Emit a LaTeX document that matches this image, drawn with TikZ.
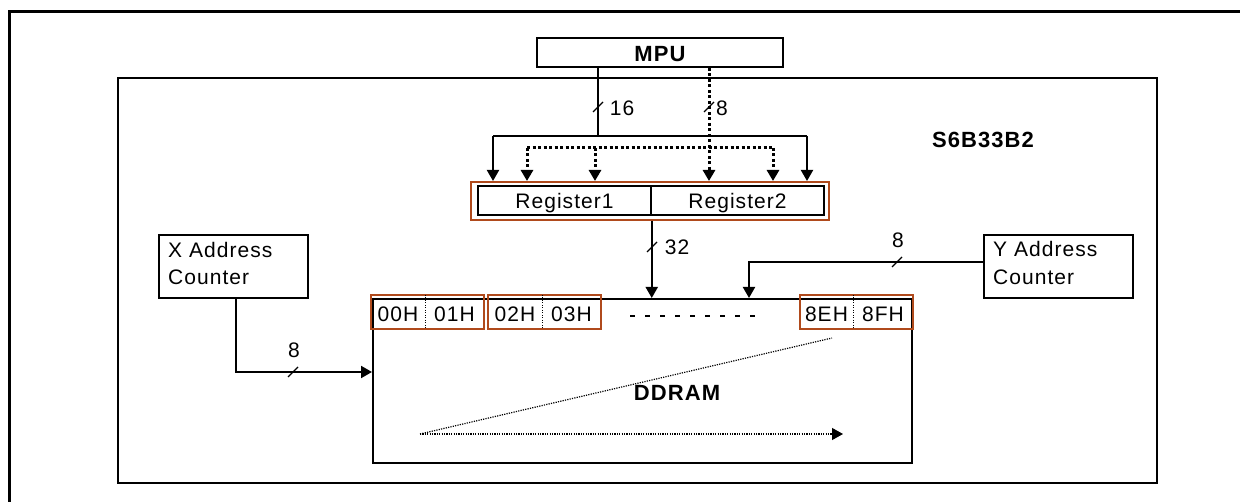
\documentclass[tikz,border=0pt]{standalone}
\usepackage{fontspec}
\setmainfont{Liberation Sans}
\usetikzlibrary{arrows.meta}
\definecolor{regor}{RGB}{176,74,28}
\begin{document}
\begin{tikzpicture}[x=1pt,y=-1pt,
  lbl/.style={font=\fontsize{21}{24}\selectfont\addfontfeatures{LetterSpace=5}, inner sep=0pt, anchor=base},
  blbl/.style={font=\fontsize{22}{24}\selectfont\bfseries\addfontfeatures{LetterSpace=5}, inner sep=0pt, anchor=base},
  box/.style={draw, line width=2pt, inner sep=0pt},
  rbox/.style={draw, line width=1.5pt, inner sep=0pt},
  obox/.style={draw=regor, line width=2pt, inner sep=0pt},
  wire/.style={line width=2pt},
  dwire/.style={line width=3pt, dash pattern=on 3pt off 2.5pt},
  arr/.style={-{Triangle[width=12pt,length=11pt]}},
  divider/.style={line width=1pt, dash pattern=on 1pt off 1.5pt},
  thindot/.style={line width=1.2pt, dash pattern=on 1.2pt off 1.2pt},
  busmark/.pic={\draw[line width=1.3pt] (-5,5) -- (5,-5);}
]
\useasboundingbox (0,0) rectangle (1240,502);
% outer frame (cropped)
\draw[line width=3pt] (9,502) -- (9,12) -- (1240,12);
% chip frame
\node[box, minimum width=1039pt, minimum height=405pt] (chip) at (637.5,280.5) {};
\node[blbl] (chipname) at (983,148) {S6B33B2};
% MPU
\node[box, minimum width=246pt, minimum height=29pt] (mpu) at (660,52.5) {};
\node[blbl] (mputxt) at (660,62) {MPU};
% registers
\node[obox, minimum width=358pt, minimum height=38pt] (regs) at (650,201) {};
\node[rbox, minimum width=173pt, minimum height=29pt] (r1) at (564.5,200.5) {};
\node[rbox, minimum width=173pt, minimum height=29pt] (r2) at (737.5,200.5) {};
\node[lbl] (r1t) at (564.5,209) {Register1};
\node[lbl] (r2t) at (737.5,209) {Register2};
% 16-bit bus (solid)
\coordinate (sj) at (598,136);
\coordinate (sl) at (493,136);
\coordinate (sr) at (807,136);
\draw[wire] (mpu.south -| sj) -- (sj);
\draw[wire] (sl) -- (sr);
\draw[wire, arr] (sl) -- (sl |- regs.north);
\draw[wire, arr] (sr) -- (sr |- regs.north);
\pic at (598,107) {busmark};
\node[lbl] (l16) at (622,116) {16};
% 8-bit bus (dotted)
\coordinate (dj) at (709,148);
\coordinate (dl) at (527,148);
\coordinate (dm) at (595,148);
\coordinate (dr) at (773,148);
\draw[dwire, arr] (mpu.south -| dj) -- (dj |- regs.north);
\draw[dwire] (dl) -- (dr);
\draw[dwire, arr] (dl) -- (dl |- regs.north);
\draw[dwire, arr] (dm) -- (dm |- regs.north);
\draw[dwire, arr] (dr) -- (dr |- regs.north);
\pic at (709,107) {busmark};
\node[lbl] (l8a) at (722,116) {8};
% DDRAM
\node[box, minimum width=539pt, minimum height=164pt] (ddram) at (642.5,381) {};
\node[blbl] (ddt) at (677,401) {DDRAM};
% 32-bit bus
\draw[wire, arr] (regs.south -| r1.east) -- (r1.east |- ddram.north);
\pic at (652,247) {busmark};
\node[lbl] (l32) at (677,255) {32};
% cells
\node[obox, minimum width=113pt, minimum height=34pt] (c1) at (427.5,312) {};
\node[obox, minimum width=113pt, minimum height=34pt] (c2) at (544.5,312) {};
\node[obox, minimum width=113pt, minimum height=34pt] (c3) at (856.5,312) {};
\draw[divider] (425,295) -- (425,329);
\draw[divider] (542,295) -- (542,329);
\draw[divider] (853,295) -- (853,329);
\node[lbl] (t00) at (398,322) {00H};
\node[lbl] (t01) at (454.5,322) {01H};
\node[lbl] (t02) at (515,322) {02H};
\node[lbl] (t03) at (571.5,322) {03H};
\node[lbl] (t8e) at (826.5,322) {8EH};
\node[lbl] (t8f) at (883,322) {8FH};
\draw[line width=1.5pt, dash pattern=on 5pt off 10pt] (630,316) -- (756,316);
% scan arrows
\coordinate (ds) at (420,434);
\coordinate (de) at (832,338);
\coordinate (dh) at (843,434);
\draw[thindot] (ds) -- (de);
\draw[thindot, arr] (ds) -- (dh);
% X address counter
\node[box, minimum width=149pt, minimum height=63pt] (xaddr) at (233.5,266.5) {};
\node[lbl, anchor=base west] (xa1) at (168,258) {X Address};
\node[lbl, anchor=base west] (xa2) at (168,285) {Counter};
\coordinate (xc) at (236,372);
\draw[wire, arr] (xaddr.south -| xc) -- (xc) -- (xc -| ddram.west);
\pic at (293,372) {busmark};
\node[lbl] (l8x) at (294,358) {8};
% Y address counter
\node[box, minimum width=149pt, minimum height=63pt] (yaddr) at (1058.5,266.5) {};
\node[lbl, anchor=base west] (ya1) at (993,257) {Y Address};
\node[lbl, anchor=base west] (ya2) at (993,285) {Counter};
\coordinate (yc) at (749,262);
\draw[wire, arr] (yaddr.west |- yc) -- (yc) -- (yc |- ddram.north);
\pic at (897,262) {busmark};
\node[lbl] (l8y) at (898,248) {8};
\end{tikzpicture}
\end{document}
